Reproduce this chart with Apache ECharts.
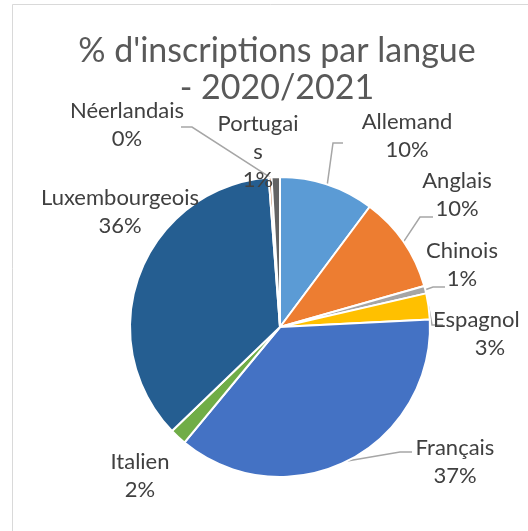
<!DOCTYPE html>
<html>
<head>
<meta charset="utf-8">
<script src="https://cdn.jsdelivr.net/npm/echarts@6/dist/echarts.min.js"></script>
<style>
html,body{margin:0;padding:0;background:#fff;}
#chart{width:528px;height:531px;}
</style>
</head>
<body>
<div id="chart"></div>
<script>
const categories = ['Allemand','Anglais','Chinois','Espagnol','Français','Italien','Luxembourgeois','Néerlandais','Portugais'];
const values = [10.2, 10.4, 0.8, 2.8, 36.8, 1.8, 36.0, 0.3, 0.9];
const colors = ['#5B9BD5','#ED7D31','#A5A5A5','#FFC000','#4472C4','#70AD47','#255E91','#9E480E','#636363'];
const titleText = "% d'inscriptions par langue\n- 2020/2021";

// label placement (Excel-like): centre of text block, and leader elbow/end
const labelPlace = [
  {x: 407, y: 136, line: [[333, 143], [343, 143]]},
  {x: 457, y: 195, line: [[420, 217], [433, 217]]},
  {x: 462, y: 265, line: [[433, 287], [445, 287]]},
  {x: 490, y: 334, line: [[432, 325], [443, 325]]},
  {x: 455, y: 462, line: [[400, 452], [412, 452]]},
  {x: 140, y: 476, line: null},
  {x: 120, y: 212, line: null},
  {x: 127, y: 125, line: [[192, 127], [181, 127]]},
  {x: 258, y: 152, line: null}
];

const chart = echarts.init(document.getElementById('chart'));
chart.setOption({
  animation: false,
  backgroundColor: '#ffffff',
  graphic: [{
    type: 'rect', silent: true, z: -1,
    shape: {x: 12.5, y: 4.5, width: 700, height: 700},
    style: {fill: 'none', stroke: '#D9D9D9', lineWidth: 1}
  }],
  title: {
    text: titleText,
    left: 272, top: 28, textAlign: 'center',
    textStyle: {fontFamily: 'Lato', fontWeight: 'normal', fontSize: 34, color: '#595959', lineHeight: 37}
  },
  series: [{
    type: 'pie',
    center: [280, 327],
    radius: [0, 150],
    startAngle: 90,
    clockwise: true,
    data: categories.map((c, i) => {
      const d = {name: c, value: values[i], itemStyle: {color: colors[i]}};
      if (!labelPlace[i].line) d.labelLine = {show: false};
      if (c === 'Portugais') d.label = {width: 84, overflow: 'breakAll'};
      if (c === 'Espagnol') d.label = {width: 114, overflow: 'none'};
      return d;
    }),
    itemStyle: {borderColor: '#fff', borderWidth: 2},
    label: {
      show: true,
      overflow: 'none',
      formatter: p => p.name === 'Espagnol'
        ? '{l|' + p.name + '}\n{c|' + Math.round(p.percent) + '%}'
        : p.name + '\n' + Math.round(p.percent) + '%',
      fontFamily: 'Lato', fontSize: 22, color: '#404040', lineHeight: 28, align: 'center',
      rich: {
        l: {align: 'left', fontFamily: 'Lato', fontSize: 22, color: '#404040', lineHeight: 28},
        c: {align: 'center', fontFamily: 'Lato', fontSize: 22, color: '#404040', lineHeight: 28}
      }
    },
    labelLine: {show: true, length: 12, length2: 10, lineStyle: {color: '#A6A6A6', width: 1.5}},
    labelLayout: params => {
      const pl = labelPlace[params.dataIndex];
      const res = {x: pl.x, y: pl.y, align: 'center', verticalAlign: 'middle'};
      if (pl.line && params.labelLinePoints) {
        res.labelLinePoints = [params.labelLinePoints[0], pl.line[0], pl.line[1]];
      }
      return res;
    }
  }]
});
</script>
</body>
</html>
